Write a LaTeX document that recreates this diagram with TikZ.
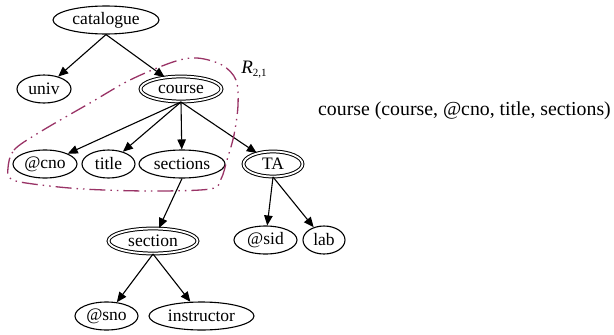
\documentclass[tikz,border=0pt]{standalone}
\usepackage{fontspec}
\setmainfont{Liberation Serif}
\usetikzlibrary{arrows.meta,shapes.geometric}
\definecolor{regioncol}{HTML}{993366}
\tikzset{
  every node/.style={font=\fontsize{17.5}{20}\selectfont},
  nd/.style={draw, ellipse, line width=1.1pt, inner sep=0pt},
  dnd/.style={draw, ellipse, line width=1pt, double, double distance=1.8pt, inner sep=0pt},
  edge/.style={line width=1.1pt, -{Triangle[length=10pt,width=8.5pt]}},
  region/.style={regioncol, line width=1.3pt, dash pattern=on 16pt off 5pt on 1.5pt off 5pt on 1.5pt off 5pt}
}
\begin{document}
\begin{tikzpicture}[x=1pt,y=-1pt]
\useasboundingbox (0,0) rectangle (614,335);
% nodes
\node[nd, minimum width=106pt, minimum height=28pt] (catalogue) at (106,20) {catalogue};
\node[nd, minimum width=54pt, minimum height=28pt] (univ) at (44,89) {univ};
\node[dnd, minimum width=81pt, minimum height=25pt] (course) at (181,89) {course};
\node[nd, minimum width=64pt, minimum height=28pt] (cno) at (45,164) {@cno};
\node[nd, minimum width=53pt, minimum height=28pt] (title) at (108.5,164) {title};
\node[nd, minimum width=86pt, minimum height=28pt] (sections) at (182,164) {sections};
\node[dnd, minimum width=59pt, minimum height=25pt] (TA) at (273,164) {TA};
\node[dnd, minimum width=89pt, minimum height=25pt] (section) at (153,241) {section};
\node[nd, minimum width=63pt, minimum height=28pt] (sid) at (265.5,240) {@sid};
\node[nd, minimum width=42pt, minimum height=28pt] (lab) at (324,240) {lab};
\node[nd, minimum width=63pt, minimum height=28pt] (sno) at (106.5,316) {@sno};
\node[nd, minimum width=105pt, minimum height=28pt] (instructor) at (201.5,316) {instructor};
% edges
\draw[edge] (catalogue.south) -- (univ);
\draw[edge] (catalogue.south) -- (course);
\draw[edge] (course.south) -- (cno);
\draw[edge] (course.south) -- (title);
\draw[edge] (course.south) -- (sections);
\draw[edge] (course.south) -- (TA);
\draw[edge] (sections.south) -- (section);
\draw[edge] (TA.south) -- (sid);
\draw[edge] (TA.south) -- (lab);
\draw[edge] (section.south) -- (sno);
\draw[edge] (section.south) -- (instructor);
% region
\draw[region] plot[smooth cycle, tension=0.55] coordinates {
  (8,168) (14,150) (40,132) (90,103) (130,80) (173,62) (197,58) (222,65) (236,80)
  (238,105) (234,135) (227,160) (221,179) (210,189) (150,191) (83,189) (33,184) (11,179)};
\node[anchor=center, inner sep=0pt, font=\fontsize{19}{20}\selectfont] (rlabel) at (254,70) {\textit{R}\raisebox{-3pt}{\fontsize{11}{11}\selectfont 2,1}};
\node[anchor=base west, inner sep=0pt, font=\fontsize{19.8}{22}\selectfont] (rel) at (318,115) {course (course, @cno, title, sections)};
\end{tikzpicture}
\end{document}
